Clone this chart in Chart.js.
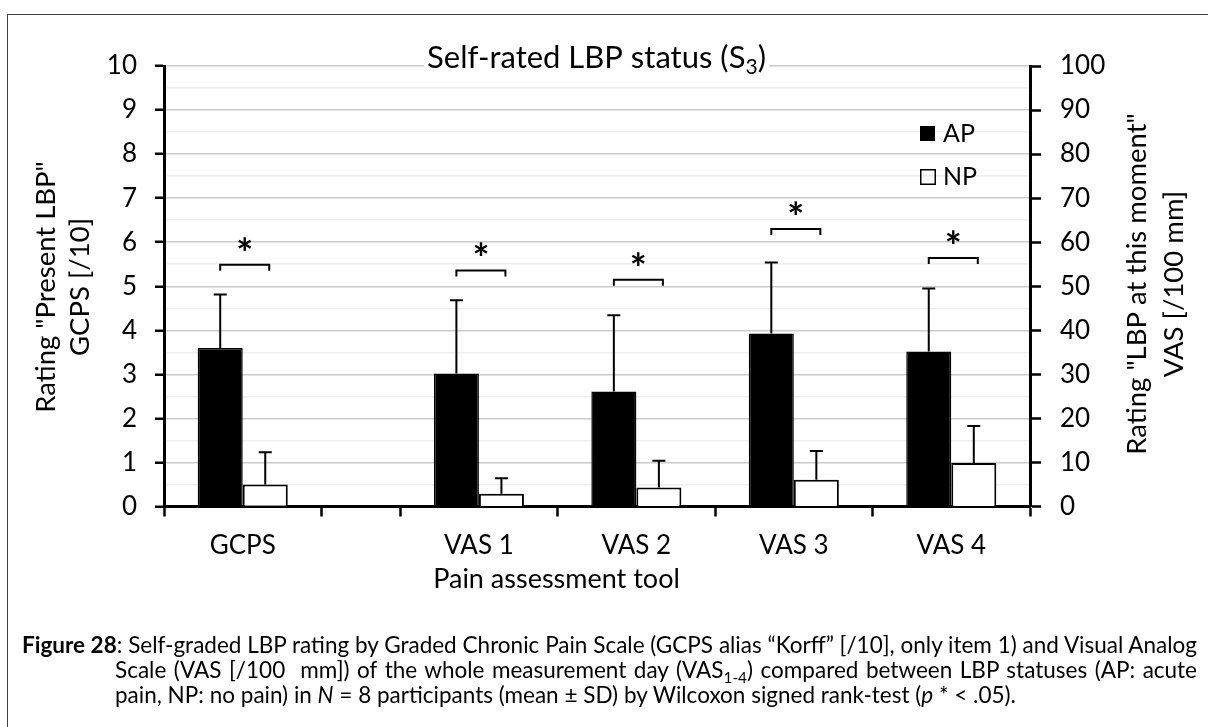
<!DOCTYPE html>
<html>
<head>
<meta charset="utf-8">
<script src="https://cdn.jsdelivr.net/npm/chart.js@4.4.0/dist/chart.umd.min.js"></script>
<style>
  html, body { margin: 0; padding: 0; background: #fff; }
  body { width: 1208px; height: 727px; overflow: hidden; position: relative; font-family: Lato, sans-serif; }
  #frame { position: absolute; left: 7px; top: 14px; width: 1300px; height: 800px; border: 1.5px solid #404040; }
  #wrap { position: absolute; left: 0; top: 0; width: 1208px; height: 640px; }
  #caption { position: absolute; left: 22px; top: 632px; width: 1175px; font-size: 22.5px; line-height: 25px; color: #000; }
  .ln { white-space: nowrap; text-align: justify; text-align-last: justify; }
  .ind { padding-left: 93px; }
  .last { text-align: left; text-align-last: left; }
  sub { font-size: 0.68em; line-height: 0; vertical-align: -0.3em; }
</style>
</head>
<body>
<div id="frame"></div>
<div id="wrap"><canvas id="chart" width="1208" height="640"></canvas></div>
<div id="caption">
  <div class="ln"><b>Figure 28</b>: Self-graded LBP rating by Graded Chronic Pain Scale (GCPS alias “Korff” [/10], only item 1) and Visual Analog</div>
  <div class="ln ind">Scale (VAS [/100&nbsp; mm]) of the whole measurement day (VAS<sub>1-4</sub>) compared between LBP statuses (AP: acute</div>
  <div class="ln ind last">pain, NP: no pain) in <i>N</i> = 8 participants (mean ± SD) by Wilcoxon signed rank-test (<i>p</i> * &lt; .05).</div>
</div>
<script>
// GCPS is read on the left axis (/10), the VAS columns on the right axis (/100 mm)
const categories = ['GCPS', 'VAS 1', 'VAS 2', 'VAS 3', 'VAS 4'];
const apMean = [3.6, 30.2, 26.1, 39.3, 35.2];
const apSD = [1.21, 16.6, 17.3, 16.1, 14.3];
const npMean = [0.5, 2.9, 4.3, 6.1, 9.9];
const npSD = [0.73, 3.5, 6.1, 6.5, 8.4];
const sigLevel = [5.49, 53.6, 51.5, 63.0, 56.4];
const gcpsTicks = [0, 1, 2, 3, 4, 5, 6, 7, 8, 9, 10];
const vasTicks = [0, 10, 20, 30, 40, 50, 60, 70, 80, 90, 100];

// GCPS sits apart from the VAS block, half a slot of empty space after it
const slotOf = i => (i === 0 ? 0.5 : i + 1);
const xMax = slotOf(categories.length - 1) + 0.5;
const isGcps = categories.map(c => c === 'GCPS');

function points(vals, gcps) {
    return categories.map((c, i) => ({ x: slotOf(i), y: isGcps[i] === gcps ? vals[i] : null }));
}

const FONT = 'Lato';
const PLOT = { left: 164, right: 1030, bottom: 506.5 };

const apStyle = { backgroundColor: '#000', borderColor: '#000', borderWidth: 1.5 };
const npStyle = { backgroundColor: '#fff', borderColor: '#000', borderWidth: 2 };

const overlay = {
    id: 'overlay',
    afterDatasetsDraw(chart) {
        const ctx = chart.ctx;
        ctx.save();
        ctx.strokeStyle = '#000';
        ctx.lineWidth = 2;
        chart.data.datasets.forEach((ds, di) => {
            const ys = chart.scales[ds.yAxisID];
            chart.getDatasetMeta(di).data.forEach((bar, i) => {
                const v = ds.data[i].y;
                if (v == null) return;
                const top = ys.getPixelForValue(v + ds.sd[i]);
                ctx.beginPath();
                ctx.moveTo(bar.x, bar.y);
                ctx.lineTo(bar.x, top);
                ctx.moveTo(bar.x - 6.5, top);
                ctx.lineTo(bar.x + 6.5, top);
                ctx.stroke();
            });
        });

        // significance brackets
        categories.forEach((c, i) => {
            const a = isGcps[i] ? 0 : 2;
            const ys = chart.scales[isGcps[i] ? 'y' : 'y2'];
            const x1 = chart.getDatasetMeta(a).data[i].x;
            const x2 = chart.getDatasetMeta(a + 1).data[i].x + 4;
            const y = ys.getPixelForValue(sigLevel[i]);
            ctx.beginPath();
            ctx.moveTo(x1, y + 6);
            ctx.lineTo(x1, y);
            ctx.lineTo(x2, y);
            ctx.lineTo(x2, y + 6);
            ctx.stroke();
            ctx.fillStyle = '#000';
            ctx.font = 'bold 40px ' + FONT;
            ctx.textAlign = 'center';
            ctx.textBaseline = 'alphabetic';
            ctx.fillText('*', (x1 + x2) / 2, y + 3);
        });
        ctx.restore();
    },
    afterDraw(chart) {
        const ctx = chart.ctx;
        ctx.save();
        ctx.fillStyle = '#000';

        // title with a white box over the top gridline
        const main = 'Self-rated LBP status (S';
        ctx.font = '31px ' + FONT;
        const w1 = ctx.measureText(main).width;
        const w3 = ctx.measureText(')').width;
        ctx.font = '21px ' + FONT;
        const w2 = ctx.measureText('3').width;
        const tx = 596.5 - (w1 + w2 + w3) / 2;
        ctx.fillStyle = '#fff';
        ctx.fillRect(tx - 3, 44, w1 + w2 + w3 + 6, 38);
        ctx.fillStyle = '#000';
        ctx.textBaseline = 'alphabetic';
        ctx.textAlign = 'left';
        ctx.font = '31px ' + FONT;
        ctx.fillText(main, tx, 68);
        ctx.fillText(')', tx + w1 + w2, 68);
        ctx.font = '21px ' + FONT;
        ctx.fillText('3', tx + w1, 74);

        // legend
        ctx.fillRect(920, 126, 15, 15);
        ctx.lineWidth = 1.5;
        ctx.strokeStyle = '#000';
        ctx.strokeRect(920.75, 169.75, 14.5, 14.5);
        ctx.font = '25px ' + FONT;
        ctx.fillText('AP', 943, 141.5);
        ctx.fillText('NP', 943, 184.5);

        // x axis title
        ctx.font = '27px ' + FONT;
        ctx.textAlign = 'center';
        ctx.fillText('Pain assessment tool', 556.5, 588);

        // rotated y axis titles
        const vText = (text, x, y) => {
            ctx.save();
            ctx.translate(x, y);
            ctx.rotate(-Math.PI / 2);
            ctx.fillText(text, 0, 0);
            ctx.restore();
        };
        ctx.font = '27.5px ' + FONT;
        vText('Rating "Present LBP"', 55, 287);
        vText('GCPS [/10]', 89, 287);
        vText('Rating "LBP at this moment"', 1146, 284);
        vText('VAS [/100 mm]', 1183, 284);
        ctx.restore();
    }
};

Chart.defaults.font.family = FONT;
Chart.defaults.color = '#000';

new Chart(document.getElementById('chart'), {
    type: 'bar',
    data: {
        datasets: [
            { label: 'AP', data: points(apMean, true), sd: apSD, yAxisID: 'y', xAxisID: 'xl', ...apStyle },
            { label: 'NP', data: points(npMean, true), sd: npSD, yAxisID: 'y', xAxisID: 'xl', ...npStyle },
            { label: 'AP', data: points(apMean, false), sd: apSD, yAxisID: 'y2', xAxisID: 'xl', ...apStyle },
            { label: 'NP', data: points(npMean, false), sd: npSD, yAxisID: 'y2', xAxisID: 'xl', ...npStyle }
        ]
    },
    options: {
        responsive: false,
        animation: false,
        devicePixelRatio: 1,
        skipNull: true,
        categoryPercentage: 0.572,
        barPercentage: 1,
        layout: { padding: { top: 66, left: 0, right: 0, bottom: 0 } },
        plugins: { legend: { display: false }, tooltip: { enabled: false } },
        scales: {
            x: {
                type: 'linear', position: 'bottom', weight: 0, min: 0, max: xMax, offset: false,
                afterBuildTicks: s => {
                    const b = [];
                    categories.forEach((c, i) => {
                        [slotOf(i) - 0.5, slotOf(i) + 0.5].forEach(v => { if (!b.includes(v)) b.push(v); });
                    });
                    s.ticks = b.map(v => ({ value: v }));
                },
                afterFit: s => { s.height = 10; },
                ticks: { display: false, autoSkip: false },
                grid: { offset: false, drawOnChartArea: false, drawTicks: true, tickLength: 10, tickColor: '#000', tickWidth: 2.5 },
                border: { display: true, color: '#000', width: 3 }
            },
            xl: {
                type: 'linear', position: 'bottom', weight: 1, min: 0, max: xMax, offset: false,
                afterBuildTicks: s => { s.ticks = categories.map((c, i) => ({ value: slotOf(i) })); },
                afterFit: s => { s.height = 640 - PLOT.bottom - 10; },
                ticks: {
                    autoSkip: false, maxRotation: 0, padding: 14,
                    font: { size: 26 },
                    callback: v => categories[categories.findIndex((c, i) => slotOf(i) === v)]
                },
                grid: { offset: false, display: false, drawTicks: false },
                border: { display: false }
            },
            y: {
                position: 'left', min: 0, max: 10,
                afterBuildTicks: s => {
                    const t = [];
                    gcpsTicks.forEach((v, i) => { t.push(v); if (i < gcpsTicks.length - 1) t.push((v + gcpsTicks[i + 1]) / 2); });
                    s.ticks = t.map(v => ({ value: v }));
                },
                afterFit: s => { s.width = PLOT.left; },
                ticks: {
                    autoSkip: false, padding: 18, font: { size: 26 },
                    callback: v => (gcpsTicks.includes(v) ? String(v) : '')
                },
                grid: {
                    color: c => (c.tick && gcpsTicks.includes(c.tick.value) ? '#cccccc' : '#eeeeee'),
                    lineWidth: 1.5,
                    tickLength: 9, tickWidth: 2.5,
                    tickColor: c => (c.tick && gcpsTicks.includes(c.tick.value) ? '#000' : 'rgba(0,0,0,0)')
                },
                border: { display: true, color: '#000', width: 3 }
            },
            y2: {
                position: 'right', min: 0, max: 100,
                afterBuildTicks: s => { s.ticks = vasTicks.map(v => ({ value: v })); },
                afterFit: s => { s.width = 1208 - PLOT.right; },
                ticks: { autoSkip: false, padding: 19, font: { size: 26 } },
                grid: { drawOnChartArea: false, tickLength: 11, tickWidth: 2.5, tickColor: '#000' },
                border: { display: true, color: '#000', width: 3 }
            }
        }
    },
    plugins: [overlay]
});
</script>
</body>
</html>
